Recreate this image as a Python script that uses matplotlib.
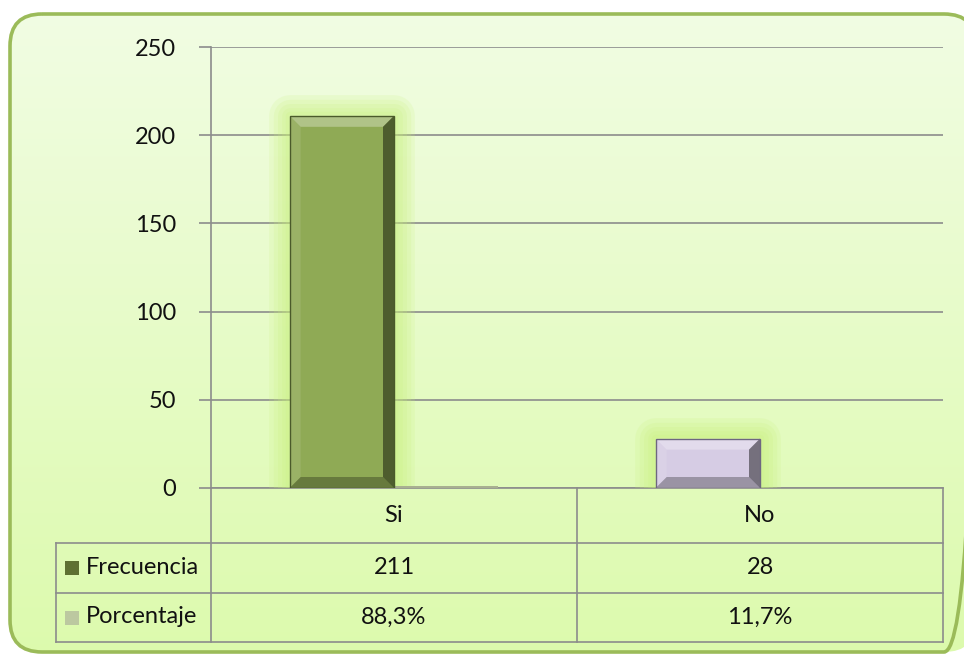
import numpy as np
import matplotlib
matplotlib.use("Agg")
import matplotlib.pyplot as plt
import matplotlib.patheffects as pe
from matplotlib.patches import FancyBboxPatch, Polygon, Rectangle

# data
categories = ["Si", "No"]
frecuencia = [211, 28]
porcentaje = [0.883, 0.117]
porcentaje_labels = ["88,3%", "11,7%"]
series_names = ["Frecuencia", "Porcentaje"]
yticks = [0, 50, 100, 150, 200, 250]

FONT = "Lato"
FS = 17
W, H = 964, 654
fig = plt.figure(figsize=(W / 100, H / 100), dpi=100)
fig.patch.set_facecolor("white")

# full-figure layer in pixel coords (background, frame, data table)
bg = fig.add_axes([0, 0, 1, 1])
bg.set_xlim(0, W)
bg.set_ylim(H, 0)
bg.axis("off")

grad = np.linspace(0, 1, 256).reshape(-1, 1)
top = np.array([0.945, 0.990, 0.890])
bot = np.array([0.865, 0.982, 0.680])
img = top + (bot - top) * grad[..., None]
frame = FancyBboxPatch((10, 14), 966, 638, boxstyle="round,pad=0,rounding_size=32",
                       facecolor="none", edgecolor="#9BBB59", linewidth=2.6, zorder=3)
bg.add_patch(frame)
im = bg.imshow(img, extent=(10, 976, 652, 14), aspect="auto", zorder=1)
im.set_clip_path(frame)

# chart axes
L, R, T, B = 211, 943, 47, 488
ax = fig.add_axes([L / W, 1 - B / H, (R - L) / W, (B - T) / H])
ax.set_facecolor("none")
ax.set_xlim(-0.5, len(categories) - 0.5)
ax.set_ylim(0, 250)
ax.set_yticks(yticks)
ax.set_yticklabels([str(v) for v in yticks], fontsize=FS, family=FONT, color="#111111")
ax.tick_params(axis="y", length=9, color="#8C8C8C", width=1.2, pad=16)
ax.tick_params(axis="x", bottom=False, labelbottom=False)
ax.grid(axis="y", color="#8C8C8C", linewidth=1.2)
ax.set_axisbelow(True)
for s in ["top", "right"]:
    ax.spines[s].set_visible(False)
for s in ["left", "bottom"]:
    ax.spines[s].set_color("#8C8C8C")
    ax.spines[s].set_linewidth(1.2)

x = np.arange(len(categories))
bw = 0.285
bar_colors = ["#8FAA55", "#D6CCE4"]
glow = [pe.Stroke(linewidth=lw, foreground="#C8F07A", alpha=0.16, joinstyle="round", capstyle="round")
        for lw in (30, 24, 18, 12, 6)] + [pe.Normal()]
bars = ax.bar(x - bw / 2, frecuencia, bw, color=bar_colors, edgecolor="none", zorder=3,
              path_effects=glow)
ax.bar(x + bw / 2, porcentaje, bw, color="#A8B090", edgecolor="none", zorder=3)

# bevel shading on the frecuencia bars
px_x = len(categories) / (R - L)
px_y = 250 / (B - T)
edge_cols = ["#4A5A2A", "#6E6680"]
for b, ec in zip(bars, edge_cols):
    x0, x1 = b.get_x(), b.get_x() + b.get_width()
    y1 = b.get_height()
    dx, dy = 11 * px_x, 11 * px_y
    dy = min(dy, y1 / 3)
    shades = [
        ([(x0, y1), (x1, y1), (x1 - dx, y1 - dy), (x0 + dx, y1 - dy)], "white", 0.30),
        ([(x0, 0), (x0, y1), (x0 + dx, y1 - dy), (x0 + dx, dy)], "white", 0.10),
        ([(x1, 0), (x1, y1), (x1 - dx, y1 - dy), (x1 - dx, dy)], "black", 0.45),
        ([(x0, 0), (x1, 0), (x1 - dx, dy), (x0 + dx, dy)], "black", 0.28),
    ]
    for pts, col, a in shades:
        ax.add_patch(Polygon(pts, closed=True, facecolor=col, alpha=a, edgecolor="none", zorder=4))
    ax.add_patch(Rectangle((x0, 0), x1 - x0, y1, facecolor="none", edgecolor=ec,
                           linewidth=1.0, zorder=5))

# data table (pixel layout)
lc = "#8C8C8C"
col_w = (R - L) / len(categories)
row_y = [B, 543, 593, 642]
bg.plot([L, L], [B, row_y[-1]], color=lc, lw=1.2, zorder=4)
for i in range(1, len(categories) + 1):
    bg.plot([L + i * col_w] * 2, [B, row_y[-1]], color=lc, lw=1.2, zorder=4)
for yy in row_y[1:]:
    bg.plot([56, R], [yy, yy], color=lc, lw=1.2, zorder=4)
bg.plot([56, 56], [row_y[1], row_y[-1]], color=lc, lw=1.2, zorder=4)

tk = dict(fontsize=FS, family=FONT, color="#111111", ha="center", va="center", zorder=5)
rows = [categories, [str(v) for v in frecuencia], porcentaje_labels]
for r, vals in enumerate(rows):
    yc = (row_y[r] + row_y[r + 1]) / 2
    for i, v in enumerate(vals):
        bg.text(L + (i + 0.5) * col_w, yc, v, **tk)

key_colors = ["#5E7032", "#BCC8A0"]
for r, (name, kc) in enumerate(zip(series_names, key_colors)):
    yc = (row_y[r + 1] + row_y[r + 2]) / 2
    bg.add_patch(Rectangle((65, yc - 7), 14, 14, facecolor=kc, edgecolor="none", zorder=5))
    bg.text(86, yc - 1, name, fontsize=FS, family=FONT, color="#111111", ha="left", va="center", zorder=5)

fig.savefig("out.png", dpi=100)
